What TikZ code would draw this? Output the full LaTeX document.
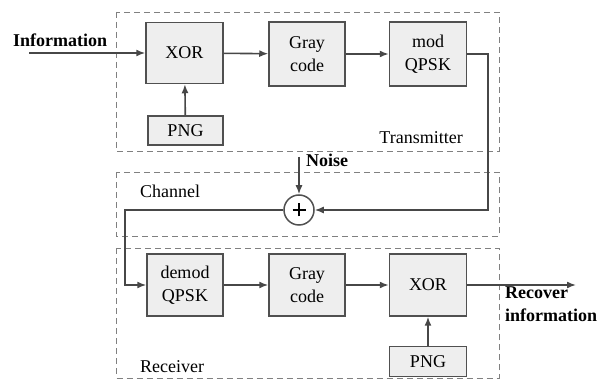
\documentclass[tikz,border=0pt]{standalone}
\usepackage{fontspec}
\setmainfont{Liberation Serif}
\newfontfamily\tnr{Liberation Serif}
\usetikzlibrary{arrows.meta}
\definecolor{boxline}{HTML}{505050}
\definecolor{boxfill}{HTML}{EEEEEE}
\definecolor{arrowc}{HTML}{474747}
\definecolor{dashc}{HTML}{808080}
\tikzset{
  blk/.style={draw=boxline, line width=1.5pt, fill=boxfill, minimum width=#1, inner sep=0pt, align=center, font=\tnr\fontsize{18}{22.5}\selectfont},
  blk/.default=76pt,
  group/.style={draw=dashc, line width=0.9pt, dash pattern=on 6pt off 4pt},
  conn/.style={draw=arrowc, line width=1.6pt, -{Latex[length=9pt,width=7pt]}},
  lbl/.style={font=\tnr\fontsize{18}{22.5}\selectfont, inner sep=0pt},
  blbl/.style={font=\tnr\fontsize{18}{23}\selectfont\bfseries, inner sep=0pt, align=left},
}
\begin{document}
\begin{tikzpicture}[x=1pt,y=-1pt]
\useasboundingbox (0,0) rectangle (606,379);
% group boxes
\draw[group] (116,12) rectangle (499,151);
\draw[group] (116,172.5) rectangle (499,236.5);
\draw[group] (116,248.5) -- (116,378) -- (499,378) -- (499,248.5) -- cycle;
% labels
\node[lbl, anchor=east] (tx) at (463,138) {Transmitter};
\node[lbl, anchor=west] (ch) at (140,191.5) {Channel};
\node[lbl, anchor=west] (rx) at (140,366.5) {Receiver};
% transmitter blocks
\node[blk=77pt, minimum height=61pt] (xor1) at (184.5,53) {XOR};
\node[blk=76pt, minimum height=64pt] (gray1) at (307,54) {Gray\\code};
\node[blk=77pt, minimum height=64pt] (mod) at (428,54) {mod\\QPSK};
\node[blk=75pt, minimum height=29pt] (png1) at (185.5,130.5) {PNG};
% receiver blocks
\node[blk=76pt, minimum height=62pt] (demod) at (185,285) {demod\\QPSK};
\node[blk=76pt, minimum height=62pt] (gray2) at (307,285) {Gray\\code};
\node[blk=77pt, minimum height=62pt] (xor2) at (428,285) {XOR};
\node[blk=77pt, minimum height=30pt] (png2) at (428,361.5) {PNG};
% adder
\node[draw=boxline, line width=1.5pt, fill=white, circle, minimum size=30pt, inner sep=0pt] (add) at (299,210) {};
\draw[line width=1.8pt, black] ([xshift=-6.5pt]add.center) -- ([xshift=6.5pt]add.center)
  ([yshift=-6.5pt]add.center) -- ([yshift=6.5pt]add.center);
% texts
\node[blbl, anchor=base west] (info) at (13,47) {Information};
\coordinate (infost) at (29,53);
\node[blbl, anchor=base west] (noise) at (306,167) {Noise};
\coordinate (noisest) at (299,157);
\node[blbl, anchor=north west] (rec) at (505,287) {Recover\\information};
\coordinate (outend) at (576,285);
% connectors
\draw[conn] (infost) -- (xor1.west);
\draw[conn] (xor1) -- (gray1);
\draw[conn] (gray1) -- (mod);
\draw[conn] (png1) -- (xor1);
\draw[conn] (mod.east) -- (488,54) -- (488,210) -- (add.east);
\draw[conn] (noisest) -- (add.north);
\draw[conn] (add.west) -- (125,210) -- (125,285) -- (demod.west);
\draw[conn] (demod) -- (gray2);
\draw[conn] (gray2) -- (xor2);
\draw[conn] (png2) -- (xor2);
\draw[conn] (xor2.east) -- (outend);
\end{tikzpicture}
\end{document}
